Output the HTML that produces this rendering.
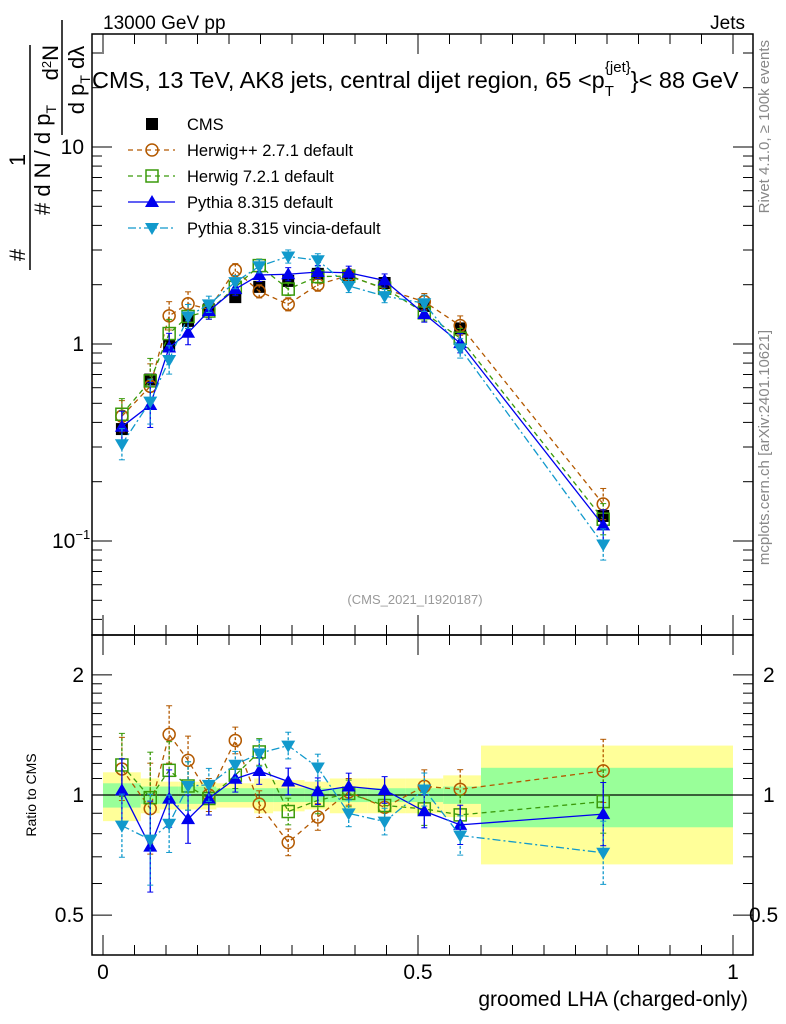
<!DOCTYPE html>
<html><head><meta charset="utf-8"><style>
body{margin:0;background:#fff}
svg{display:block;font-family:"Liberation Sans",sans-serif}
</style></head><body>
<svg id="c" width="786" height="1024">
<rect width="786" height="1024" fill="#fff"/>
<g id="bands"></g>
<g id="axes"></g>
<g id="series"></g>
<text x="103" y="29" font-size="19">13000 GeV pp</text>
<text x="745" y="29" font-size="19" text-anchor="end">Jets</text>
<text x="92" y="88" font-size="23.5">CMS, 13 TeV, AK8 jets, central dijet region, 65 &lt;p<tspan dy="8" font-size="15">T</tspan><tspan dy="-24" font-size="15" dx="-9">{jet}</tspan><tspan dy="16">}&lt; 88 GeV</tspan></text>
<text x="415" y="604" font-size="13" fill="#999" text-anchor="middle">(CMS_2021_I1920187)</text>
<text x="748" y="1006" font-size="21" text-anchor="end">groomed LHA (charged-only)</text>
<text transform="translate(36,795) rotate(-90)" font-size="14" text-anchor="middle">Ratio to CMS</text>
<text transform="translate(769,40) rotate(-90)" font-size="15" fill="#888" text-anchor="end">Rivet 4.1.0, ≥ 100k events</text>
<text transform="translate(769,330) rotate(-90)" font-size="15" fill="#888" text-anchor="end">mcplots.cern.ch [arXiv:2401.10621]</text>
<g font-size="22">
<text transform="translate(25,160) rotate(-90)" text-anchor="middle">1</text>
<line x1="30" y1="45" x2="30" y2="270" stroke="#000" stroke-width="1.5"/>
<text transform="translate(50,160) rotate(-90)" text-anchor="middle"># d N / d p<tspan font-size="14" dy="6">T</tspan></text>
<text transform="translate(25,255) rotate(-90)" text-anchor="middle">#</text>
<text transform="translate(58,45) rotate(-90)" text-anchor="end">d<tspan font-size="13" dy="-7">2</tspan><tspan dy="7">N</tspan></text>
<line x1="62" y1="20" x2="62" y2="135" stroke="#000" stroke-width="1.5"/>
<text transform="translate(84,80) rotate(-90)" text-anchor="middle">d p<tspan font-size="14" dy="6">T</tspan><tspan dy="-6"> dλ</tspan></text>
</g>
<g id="legend"></g>
</svg>
<script>
const lha=[0.03,0.075,0.105,0.135,0.168,0.21,0.248,0.294,0.341,0.39,0.447,0.51,0.567,0.794];
const edges=[0,0.06,0.09,0.12,0.15,0.18,0.24,0.27,0.32,0.36,0.42,0.48,0.54,0.6,1.0];
const cms=[0.37,0.66,0.98,1.31,1.5,1.73,1.95,2.09,2.27,2.19,2.04,1.56,1.2,0.134];
const herwigpp=[0.43,0.61,1.39,1.6,1.5,2.37,1.85,1.59,2.0,2.23,1.9,1.64,1.24,0.154];
const herwig7=[0.44,0.65,1.13,1.38,1.47,1.94,2.5,1.9,2.2,2.21,1.92,1.44,1.07,0.129];
const pythia=[0.38,0.49,0.96,1.14,1.47,1.9,2.24,2.26,2.32,2.3,2.1,1.42,1.01,0.12];
const vincia=[0.31,0.51,0.83,1.38,1.59,2.06,2.48,2.78,2.66,1.97,1.75,1.61,0.95,0.096];
const mcErr=[0.2,0.3,0.18,0.15,0.1,0.08,0.08,0.08,0.08,0.08,0.08,0.1,0.12,0.2];
const greenHalf=[0.07,0.05,0.05,0.05,0.05,0.04,0.04,0.04,0.04,0.04,0.04,0.04,0.05,0.17];
const yellowHalf=[0.14,0.1,0.08,0.08,0.08,0.07,0.1,0.09,0.08,0.1,0.1,0.1,0.12,0.33];
const yTicksMain=[{v:0.1,l:"10"},{v:1,l:"1"},{v:10,l:"10"}];
const ratioTicks=[{v:0.5,l:"0.5"},{v:1,l:"1"},{v:2,l:"2"}];
const xTicks=[{v:0,l:"0"},{v:0.5,l:"0.5"},{v:1,l:"1"}];

const NS="http://www.w3.org/2000/svg";
const L=92,R=753,T=34,M=635,B=955;
const X=v=>103+630*v;
const Y=v=>344-197*Math.log10(v);
const RY=v=>795-399*Math.log10(v);
function mk(p,tag,a){const e=document.createElementNS(NS,tag);for(const k in a)e.setAttribute(k,a[k]);p.appendChild(e);return e;}
const bands=document.getElementById('bands'),axes=document.getElementById('axes'),ser=document.getElementById('series'),leg=document.getElementById('legend');
for(let i=0;i<cms.length;i++){
  const y1=mk(bands,'rect',{x:X(edges[i]),width:X(edges[i+1])-X(edges[i]),y:RY(1+yellowHalf[i]),height:RY(1-yellowHalf[i])-RY(1+yellowHalf[i]),fill:'#ffff99'});
  
  
  const g=mk(bands,'rect',{x:X(edges[i]),width:X(edges[i+1])-X(edges[i]),y:RY(1+greenHalf[i]),height:RY(1-greenHalf[i])-RY(1+greenHalf[i]),fill:'#99ff99'});
  
  
}
mk(axes,'line',{x1:L,x2:R,y1:RY(1),y2:RY(1),stroke:'#000','stroke-width':1.3});
mk(axes,'rect',{x:L,y:T,width:R-L,height:M-T,fill:'none',stroke:'#000','stroke-width':1.5});
mk(axes,'rect',{x:L,y:M,width:R-L,height:B-M,fill:'none',stroke:'#000','stroke-width':1.5});
for(let d=-2;d<=1;d++)for(let k=1;k<10;k++){const v=k*Math.pow(10,d);const y=Y(v);if(y<T||y>M)continue;const len=k==1?20:10;
 mk(axes,'line',{x1:L,x2:L+len,y1:y,y2:y,stroke:'#000'});mk(axes,'line',{x1:R,x2:R-len,y1:y,y2:y,stroke:'#000'});}
yTicksMain.forEach(t=>{const e=mk(axes,'text',{x:t.v==0.1?52:84,y:Y(t.v)+7,'font-size':21,'text-anchor':t.v==0.1?'start':'end'});e.textContent=t.l;
 if(t.v==0.1){const s=mk(e,'tspan',{dy:-9,'font-size':13});s.textContent='−1';}
 
 });
[0.5,0.6,0.7,0.8,0.9,1,1.1,1.2,1.3,1.4,1.5,1.6,1.7,1.8,1.9,2].forEach(v=>{const len=(v==0.5||v==1||v==2)?20:10;const y=RY(v);
 mk(axes,'line',{x1:L,x2:L+len,y1:y,y2:y,stroke:'#000'});mk(axes,'line',{x1:R,x2:R-len,y1:y,y2:y,stroke:'#000'});});
ratioTicks.forEach(t=>{[[84,'end'],[t.v==0.5?749:763,'start']].forEach(([x,a])=>{const e=mk(axes,'text',{x:x,y:RY(t.v)+7,'font-size':21,'text-anchor':a});e.textContent=t.l;
 
 });});
for(let i=0;i<=20;i++){const v=i*0.05;const x=X(v);const len=i%10==0?20:10;
 [[T,1],[M,-1],[M,1],[B,-1]].forEach(([y,s])=>mk(axes,'line',{x1:x,x2:x,y1:y,y2:y+s*len,stroke:'#000'}));}
xTicks.forEach(t=>{const e=mk(axes,'text',{x:X(t.v),y:979,'font-size':21,'text-anchor':'middle'});e.textContent=t.l;
 
 });

function marker(g,type,x,y,c){
 if(type=='sq')return mk(g,'rect',{x:x-6,y:y-6,width:12,height:12,fill:c});
 if(type=='osq')return mk(g,'rect',{x:x-6,y:y-6,width:12,height:12,fill:'none',stroke:c,'stroke-width':1.5});
 if(type=='oc')return mk(g,'circle',{cx:x,cy:y,r:6,fill:'none',stroke:c,'stroke-width':1.5});
 if(type=='tri')return mk(g,'path',{d:`M${x} ${y-7}L${x+7} ${y+5}L${x-7} ${y+5}Z`,fill:c});
 return mk(g,'path',{d:`M${x} ${y+7}L${x+7} ${y-5}L${x-7} ${y-5}Z`,fill:c});
}
const series=[
 {name:'herwigpp',vals:herwigpp,c:'#b35900',dash:'5,4',m:'oc',label:'Herwig++ 2.7.1 default'},
 {name:'herwig7',vals:herwig7,c:'#3a9a0a',dash:'5,4',m:'osq',label:'Herwig 7.2.1 default'},
 {name:'pythia',vals:pythia,c:'#0000ee',dash:'',m:'tri',label:'Pythia 8.315 default'},
 {name:'vincia',vals:vincia,c:'#1199cc',dash:'8,3,2,3',m:'itri',label:'Pythia 8.315 vincia-default'}];
const gc=mk(ser,'g',{});


cms.forEach((v,i)=>{mk(gc,'line',{x1:X(lha[i]),x2:X(lha[i]),y1:Y(v*1.05),y2:Y(v/1.05),stroke:'#000'});marker(gc,'sq',X(lha[i]),Y(v),'#000');});
series.forEach(s=>{
 const g=mk(ser,'g',{});
 
 
 const pts=s.vals.map((v,i)=>X(lha[i])+','+Y(v)).join(' ');
 mk(g,'polyline',{points:pts,fill:'none',stroke:s.c,'stroke-width':1.3,'stroke-dasharray':s.dash||'none'});
 const rp=s.vals.map((v,i)=>X(lha[i])+','+RY(v/cms[i])).join(' ');
 mk(g,'polyline',{points:rp,fill:'none',stroke:s.c,'stroke-width':1.3,'stroke-dasharray':s.dash||'none'});
 s.vals.forEach((v,i)=>{const x=X(lha[i]),e=mcErr[i];
  [[Y,v],[RY,v/cms[i]]].forEach(([f,w])=>{
   mk(g,'line',{x1:x,x2:x,y1:f(w*(1+e)),y2:f(w/(1+e)),stroke:s.c,'stroke-width':1.3,'stroke-dasharray':s.dash?'3,2':'none'});
   mk(g,'line',{x1:x-3,x2:x+3,y1:f(w*(1+e)),y2:f(w*(1+e)),stroke:s.c});
   mk(g,'line',{x1:x-3,x2:x+3,y1:f(w/(1+e)),y2:f(w/(1+e)),stroke:s.c});
   const m=marker(g,s.m,x,f(w),s.c);
   
   
  });});
});
const rows=[{label:'CMS',m:'sq',c:'#000',dash:null}].concat(series);
rows.forEach((r,i)=>{const y=124+26*i;const g=mk(leg,'g',{});
 
 
 if(r.dash!==null)mk(g,'line',{x1:128,x2:175,y1:y,y2:y,stroke:r.c,'stroke-width':1.3,'stroke-dasharray':r.dash||'none'});
 marker(g,r.m,152,y,r.c);
 const t=mk(g,'text',{x:187,y:y+6,'font-size':16.5});t.textContent=r.label;});
</script>
</body></html>
